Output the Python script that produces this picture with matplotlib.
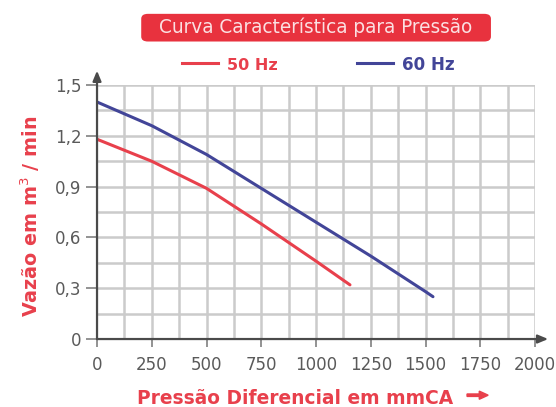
import matplotlib
matplotlib.use("Agg")
import matplotlib.pyplot as plt
from matplotlib.patches import FancyBboxPatch, FancyArrow
from matplotlib.lines import Line2D

plt.rcParams['font.family'] = ['DejaVu Sans']

# Data
pressure_50 = [0, 250, 500, 750, 1000, 1155]
flow_50 = [1.18, 1.05, 0.89, 0.68, 0.46, 0.32]
pressure_60 = [0, 250, 500, 750, 1000, 1250, 1500, 1534]
flow_60 = [1.40, 1.26, 1.09, 0.89, 0.69, 0.49, 0.28, 0.25]

x_ticks = [0, 250, 500, 750, 1000, 1250, 1500, 1750, 2000]
y_ticks = [0, 0.3, 0.6, 0.9, 1.2, 1.5]
y_tick_labels = ['0', '0,3', '0,6', '0,9', '1,2', '1,5']

title_text = 'Curva Característica para Pressão'
xlabel_text = 'Pressão Diferencial em mmCA'
ylabel_text = 'Vazão em m$^3$ / min'
legend_labels = ['50 Hz', '60 Hz']

RED = '#e8404c'
BLUE = '#424598'
GRID = '#cbcbcb'
AXIS = '#4a4a4a'
TICKTXT = '#5a5a5a'

fig = plt.figure(figsize=(5.56, 4.07), dpi=100)
ax = fig.add_axes([0.1745, 0.167, 0.7878, 0.624])
ax.set_xlim(0, 2000)
ax.set_ylim(0, 1.5)

# grid
for xv in range(125, 2001, 125):
    ax.axvline(xv, color=GRID, lw=1.8, zorder=1)
for i in range(1, 11):
    ax.axhline(i * 0.15, color=GRID, lw=1.8, zorder=1)

for s in ax.spines.values():
    s.set_visible(False)

ax.plot(pressure_50, flow_50, color=RED, lw=2.2, zorder=3, solid_capstyle='round')
ax.plot(pressure_60, flow_60, color=BLUE, lw=2.2, zorder=3, solid_capstyle='round')

# axis arrows
ax.annotate('', xy=(0, 1.585), xytext=(0, 0), annotation_clip=False,
            arrowprops=dict(arrowstyle='-|>,head_length=0.6,head_width=0.25',
                            color=AXIS, lw=1.6, shrinkA=0, shrinkB=0), zorder=4)
ax.annotate('', xy=(2060, 0), xytext=(0, 0), annotation_clip=False,
            arrowprops=dict(arrowstyle='-|>,head_length=0.6,head_width=0.25',
                            color=AXIS, lw=1.6, shrinkA=0, shrinkB=0), zorder=4)

ax.set_xticks(x_ticks)
ax.set_xticklabels([str(v) for v in x_ticks])
ax.set_yticks(y_ticks)
ax.set_yticklabels(y_tick_labels)
ax.tick_params(axis='both', colors='#8a8a8a', width=1.3, labelsize=12,
               labelcolor=TICKTXT)
ax.tick_params(axis='x', length=6, pad=6)
ax.tick_params(axis='y', length=8, pad=3)

# axis labels
ylab = fig.text(0.054, 0.469, ylabel_text, rotation=90, color=RED,
                fontsize=13.5, fontweight='bold', ha='center', va='center')
xlab = fig.text(0.531, 0.0074, xlabel_text, color=RED,
                fontsize=13.5, fontweight='bold', ha='center', va='baseline')
fig.patches.append(FancyArrow(
    0.840, 0.029, 0.038, 0, width=0.006, head_width=0.02, head_length=0.016,
    length_includes_head=True, color=RED, transform=fig.transFigure, figure=fig))

# title box
box = FancyBboxPatch((0.254, 0.898), 0.629, 0.068,
                     boxstyle='round,pad=0,rounding_size=0.012',
                     transform=fig.transFigure, facecolor='#e8323e',
                     edgecolor='none')
fig.patches.append(box)
title = fig.text(0.567, 0.918, title_text, color='#fbe0e2',
                 fontsize=13, ha='center', va='baseline')

# legend
fig.add_artist(Line2D([0.327, 0.392], [0.846, 0.846], color=RED, lw=2.2,
                      transform=fig.transFigure))
leg1 = fig.text(0.408, 0.828, legend_labels[0], color=RED, fontsize=12.5,
                fontweight='bold', ha='left', va='baseline')
fig.add_artist(Line2D([0.642, 0.707], [0.846, 0.846], color=BLUE, lw=2.2,
                      transform=fig.transFigure))
leg2 = fig.text(0.723, 0.828, legend_labels[1], color=BLUE, fontsize=12.5,
                fontweight='bold', ha='left', va='baseline')

# fit text lengths (pixels) to the reference
renderer = fig.canvas.get_renderer()
def fit(t, target, vertical=False):
    bb = t.get_window_extent(renderer)
    cur = bb.height if vertical else bb.width
    t.set_fontsize(t.get_fontsize() * target / cur)

fit(title, 315)
fit(xlab, 316)
fit(ylab, 202, vertical=True)
fit(leg1, 51)
fit(leg2, 53)

fig.savefig('out.png', dpi=100)
